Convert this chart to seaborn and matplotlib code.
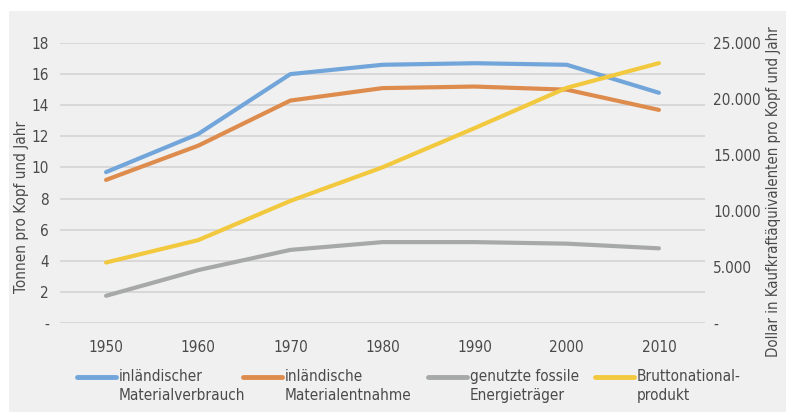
import numpy as np
import pandas as pd
import matplotlib.pyplot as plt
import matplotlib.ticker as mtick
from matplotlib.patches import Rectangle
from matplotlib.lines import Line2D
import seaborn as sns

sns.set_theme(style="white")
plt.rcParams["font.family"] = ["DejaVu Sans"]
plt.rcParams["font.stretch"] = "condensed"

years = ["1950", "1960", "1970", "1980", "1990", "2000", "2010"]
verbrauch = [9.7, 12.15, 16.0, 16.6, 16.7, 16.6, 14.8]
entnahme = [9.2, 11.4, 14.3, 15.1, 15.2, 15.0, 13.7]
fossil = [1.75, 3.4, 4.7, 5.2, 5.2, 5.1, 4.8]
bnp = [5400, 7400, 10900, 13900, 17400, 21000, 23200]

names = ["inländischer\nMaterialverbrauch", "inländische\nMaterialentnahme",
         "genutzte fossile\nEnergieträger", "Bruttonational-\nprodukt"]
COLORS = ["#72A5DA", "#DE8C4D", "#A7A9A9", "#F2C93E"]
TXT = "#4a4a4a"

left = pd.DataFrame({
    "Jahr": years * 3,
    "Wert": verbrauch + entnahme + fossil,
    "Serie": [names[0]] * 7 + [names[1]] * 7 + [names[2]] * 7,
})
right = pd.DataFrame({"Jahr": years, "Wert": bnp})

fig = plt.figure(figsize=(7.86, 4.12), dpi=100)
fig.patch.set_facecolor("white")
fig.patches.append(Rectangle((9 / 786, 0), 1, 401 / 412, transform=fig.transFigure,
                             facecolor="#f0f0f0", edgecolor="none", zorder=-10))

ax = fig.add_axes([60 / 786, 89 / 412, 645 / 786, 280 / 412])
ax.set_facecolor("none")
sns.lineplot(data=left, x="Jahr", y="Wert", hue="Serie", palette=COLORS[:3],
             lw=3, ax=ax, legend=False, sort=False)
ax2 = ax.twinx()
sns.lineplot(data=right, x="Jahr", y="Wert", color=COLORS[3], lw=3, ax=ax2, sort=False)

ax.set_xlim(-0.5, 6.5)
ax.set_ylim(0, 18)
ax2.set_ylim(0, 25000)
ax.set_yticks(np.arange(0, 19, 2))
ax2.set_yticks(np.arange(0, 25001, 5000))
ax.yaxis.set_major_formatter(mtick.FuncFormatter(lambda v, _: "-" if v == 0 else f"{v:.0f}"))
ax2.yaxis.set_major_formatter(mtick.FuncFormatter(
    lambda v, _: "-" if v == 0 else f"{v:,.0f}".replace(",", ".")))
ax.grid(axis="y", color="#d4d4d4", lw=1.2)
ax.set_axisbelow(True)
for a in (ax, ax2):
    for s in a.spines.values():
        s.set_visible(False)
    a.tick_params(length=0, colors=TXT, labelsize=11)
ax.tick_params(axis="x", pad=12)
ax.tick_params(axis="y", pad=8)
ax2.tick_params(axis="y", pad=6)
ax.set_xlabel("")
ax.set_ylabel("Tonnen pro Kopf und Jahr", color=TXT, fontsize=11)
ax2.set_ylabel("Dollar in Kaufkraftäquivalenten pro Kopf und Jahr", color=TXT,
               fontsize=10.7)
ax.yaxis.label.set_va("center")
ax2.yaxis.label.set_va("center")
ax.yaxis.set_label_coords(-38 / 645, 0.414)
ax2.yaxis.set_label_coords(713 / 645, 0.468)

# legend drawn by hand: handle level with first text line
leg_x = [77, 243, 428, 595]
for x, c, n in zip(leg_x, COLORS, names):
    fig.lines.append(Line2D([x / 786, (x + 39) / 786], [35 / 412, 35 / 412],
                            transform=fig.transFigure, color=c, lw=3.5,
                            solid_capstyle="round"))
    fig.text((x + 42) / 786, 43 / 412, n, color=TXT, fontsize=11, va="top",
             ha="left", linespacing=1.3)

fig.savefig("out.png", dpi=100)
